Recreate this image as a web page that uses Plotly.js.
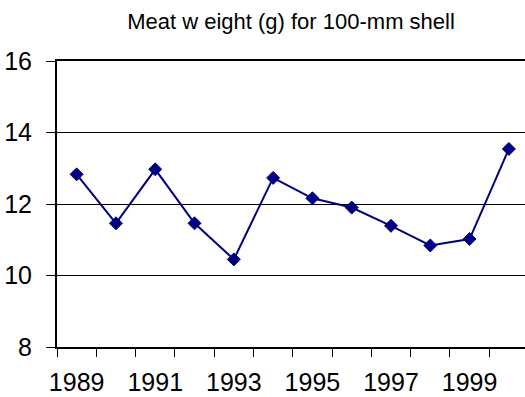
<!DOCTYPE html>
<html>
<head>
<meta charset="utf-8">
<script src="https://cdn.plot.ly/plotly-3.0.1.min.js"></script>
<style>html,body{margin:0;padding:0;background:#fff;}#chart{width:525px;height:397px;}</style>
</head>
<body>
<div id="chart"></div>
<script>
const years = [1989, 1990, 1991, 1992, 1993, 1994, 1995, 1996, 1997, 1998, 1999, 2000];
const meatWeight = [12.83, 11.46, 12.97, 11.46, 10.45, 12.73, 12.16, 11.90, 11.39, 10.84, 11.02, 13.54];
const xTickVals = [1989, 1991, 1993, 1995, 1997, 1999];
const xTickText = ['1989', '1991', '1993', '1995', '1997', '1999'];
const yTickVals = [8, 10, 12, 14, 16];

const trace = {
  x: years,
  y: meatWeight,
  type: 'scatter',
  mode: 'lines+markers',
  line: {color: '#000080', width: 2},
  marker: {symbol: 'diamond', size: 10, color: '#000080', line: {color: '#000080', width: 1}},
  cliponaxis: false,
  hoverinfo: 'skip'
};

const layout = {
  width: 525,
  height: 397,
  margin: {l: 57, r: 0, t: 61, b: 50, pad: 0},
  paper_bgcolor: '#ffffff',
  plot_bgcolor: '#ffffff',
  showlegend: false,
  font: {family: 'Liberation Sans, Arial, sans-serif', color: '#000000'},
  title: {
    text: 'Meat w eight (g) for 100-mm shell',
    font: {family: 'Liberation Sans, Arial, sans-serif', size: 22, color: '#000000'},
    x: 0.5, xref: 'paper', xanchor: 'center',
    y: 1 - 21/397, yref: 'container', yanchor: 'middle'
  },
  xaxis: {
    type: 'linear',
    range: [1988.5, 2000.41],
    tickmode: 'array',
    tickvals: xTickVals,
    ticktext: xTickText,
    ticks: '',
    ticklabelstandoff: 12,
    tickfont: {size: 25, color: '#000000'},
    showgrid: false,
    zeroline: false,
    showline: true,
    linecolor: '#000000',
    linewidth: 2,
    mirror: true,
    minor: {
      tickmode: 'linear',
      tick0: 1988.5,
      dtick: 1,
      ticks: 'outside',
      ticklen: 8,
      tickwidth: 1,
      tickcolor: '#000000',
      showgrid: false
    }
  },
  yaxis: {
    range: [8, 16],
    tickmode: 'array',
    tickvals: yTickVals,
    ticks: 'outside',
    ticklen: 9,
    tickwidth: 1,
    tickcolor: '#000000',
    ticklabelstandoff: 9,
    tickfont: {size: 25, color: '#000000'},
    showgrid: true,
    gridcolor: '#000000',
    gridwidth: 1,
    zeroline: false,
    showline: true,
    linecolor: '#000000',
    linewidth: 2
  }
};

Plotly.newPlot('chart', [trace], layout, {staticPlot: true, displayModeBar: false});
</script>
</body>
</html>
